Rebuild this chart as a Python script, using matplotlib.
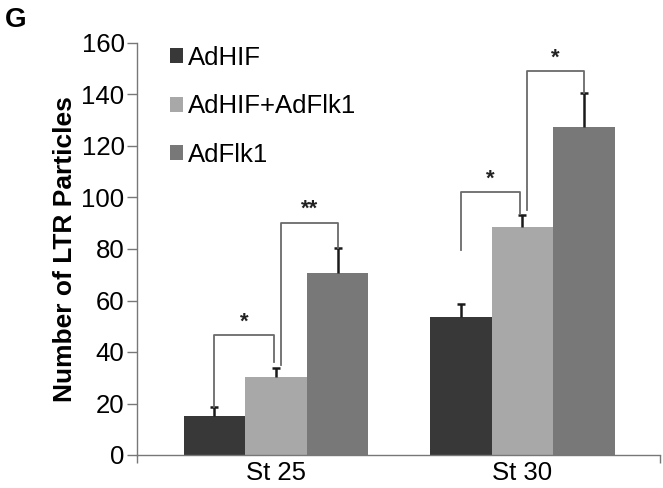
"""
Grouped bar chart: LTR particle counts at St 25 / St 30 with significance brackets.
"""

import matplotlib
matplotlib.use("Agg")
import numpy as np
import matplotlib.pyplot as plt
from matplotlib.patches import Patch

plt.rcParams["font.family"] = ["Liberation Sans", "DejaVu Sans"]

stages = ["St 25", "St 30"]
series = ["AdHIF", "AdHIF+AdFlk1", "AdFlk1"]
means = {
    "AdHIF": [15, 53.7],
    "AdHIF+AdFlk1": [30.2, 88.7],
    "AdFlk1": [70.6, 127.5],
}
errors = {
    "AdHIF": [3.6, 4.8],
    "AdHIF+AdFlk1": [3.5, 4.5],
    "AdFlk1": [9.7, 13.0],
}
colors = ["#383838", "#a8a8a8", "#787878"]

# brackets: (stage, left series, right series, bracket height, left foot, right foot, label)
brackets = [
    (0, 0, 1, 46.6, 18.5, 36.0, "*"),
    (0, 1, 2, 90.2, 35.0, 80.3, "**"),
    (1, 0, 1, 102.0, 79.6, 93.5, "*"),
    (1, 1, 2, 149.2, 95.0, 140.5, "*"),
]

fig = plt.figure(figsize=(6.63, 4.88), dpi=100)
ax = fig.add_axes([137 / 663, 1 - 455 / 488, (660 - 137) / 663, (455 - 43) / 488])

x = np.arange(len(stages))
width = 0.25
offsets = [-width, 0, width]

for i, name in enumerate(series):
    xs = x + offsets[i]
    top = np.array(means[name]) + np.array(errors[name])
    ax.bar(xs, means[name], width, color=colors[i], zorder=2)
    ax.vlines(xs, means[name], top, color="#1a1a1a", linewidth=1.8, zorder=3)
    ax.scatter(xs, top, marker="_", s=38, linewidths=1.8, color="#1a1a1a", zorder=3)

for stage, a, b, h, fa, fb, lab in brackets:
    nudge_a = 0.02 if a == 1 else 0.0
    nudge_b = -0.01 if b == 1 else 0.0
    xa = x[stage] + offsets[a] + nudge_a
    xb = x[stage] + offsets[b] + nudge_b
    ax.plot([xa, xa, xb, xb], [fa, h, h, fb], color="#6a6a6a", linewidth=1.3, zorder=4)
    ax.text((xa + xb) / 2, h + 1.0, lab, ha="center", va="bottom", fontsize=16,
            fontweight="bold", color="#222222")

ax.set_ylim(0, 160)
ax.set_xlim(-0.564, 1.558)
ax.set_yticks(np.arange(0, 161, 20))
ax.tick_params(axis="y", labelsize=18.5, length=7, width=1, color="#777777", pad=2)
ax.set_xticks(x)
ax.set_xticklabels(stages, fontsize=18.5)
ax.tick_params(axis="x", length=0, pad=4)
ax.set_xticks([-0.564, 1.558], minor=True)
ax.tick_params(axis="x", which="minor", length=6, width=1, color="#777777")

for side in ["top", "right"]:
    ax.spines[side].set_visible(False)
for side in ["left", "bottom"]:
    ax.spines[side].set_color("#777777")
    ax.spines[side].set_linewidth(1)

ax.set_ylabel("Number of LTR Particles", fontsize=19, fontweight="bold", labelpad=3)

handles = [Patch(facecolor=c, edgecolor="none") for c in colors]
ax.legend(handles, series, loc="upper left", bbox_to_anchor=(0.019, 1.049), frameon=False,
          fontsize=18.5, handlelength=0.5, handleheight=0.5, handletextpad=0.2,
          labelspacing=0.95)

fig.text(5 / 663, 1 - 27 / 488, "G", fontsize=20, fontweight="bold", va="baseline")

fig.savefig("out.png", dpi=100)
